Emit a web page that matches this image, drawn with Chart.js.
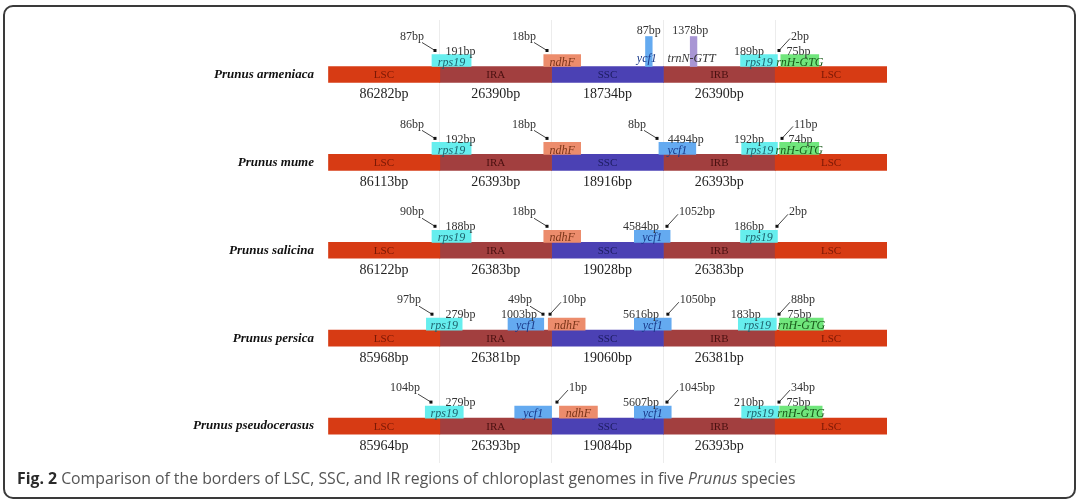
<!DOCTYPE html>
<html>
<head>
<meta charset="utf-8">
<script src="https://cdn.jsdelivr.net/npm/chart.js@4.4.1/dist/chart.umd.min.js"></script>
<style>
  html, body { margin: 0; padding: 0; background: #fff; }
  body { width: 1080px; height: 504px; position: relative; overflow: hidden; }
  #frame { position: absolute; left: 3px; top: 5px; width: 1069px; height: 490px;
           border: 2px solid #3a3a3a; border-radius: 10px; }
  #c { position: absolute; left: 0; top: 0; }
  #caption { position: absolute; left: 17px; top: 467px; font-family: "Open Sans", sans-serif;
             font-size: 15.8px; color: #555; white-space: nowrap; }
  #caption b { color: #2a2a2a; }
</style>
</head>
<body>
<div id="frame"></div>
<canvas id="c" width="1080" height="504"></canvas>
<div id="caption"><b>Fig. 2</b> Comparison of the borders of LSC, SSC, and IR regions of chloroplast genomes in five <i>Prunus</i> species</div>
<script>
// ---- data ----
const species = ["Prunus armeniaca", "Prunus mume", "Prunus salicina", "Prunus persica", "Prunus pseudocerasus"];
const regions = ["LSC", "IRA", "SSC", "IRB", "LSC"];
const lscLengths = [86282, 86113, 86122, 85968, 85964];
const irLengths  = [26390, 26393, 26383, 26381, 26393];
const sscLengths = [18734, 18916, 19028, 19060, 19084];

// gene boxes: [row, start, end] on the schematic axis (one unit per region)
const rps19Boxes = [[0, 0.93, 1.28], [0, 3.69, 4.02], [1, 0.93, 1.28], [1, 3.70, 4.02],
                    [2, 0.93, 1.28], [2, 3.69, 4.02], [3, 0.88, 1.20], [3, 3.67, 4.01],
                    [4, 0.87, 1.21], [4, 3.70, 4.03]];
const ndhFBoxes  = [[0, 1.93, 2.26], [1, 1.93, 2.26], [2, 1.93, 2.26], [3, 1.97, 2.30], [4, 2.07, 2.41]];
const ycf1Boxes  = [[1, 2.96, 3.29], [2, 2.74, 3.06], [3, 1.61, 1.93], [3, 2.74, 3.07],
                    [4, 1.67, 2.00], [4, 2.74, 3.07]];
const ycf1Tall   = [[0, 2.84, 2.90]];
const trnNTall   = [[0, 3.24, 3.30]];
const rnHBoxes   = [[0, 4.05, 4.39], [1, 4.04, 4.39], [3, 4.04, 4.43], [4, 4.04, 4.42]];

// notes next to boxes: [row, text, x, align]
const sideNotes = [
  [0, "191bp", 1.05, "left"], [0, "189bp", 3.90, "right"], [0, "75bp", 4.10, "left"],
  [1, "192bp", 1.05, "left"], [1, "4494bp", 3.04, "left"], [1, "192bp", 3.90, "right"], [1, "74bp", 4.12, "left"],
  [2, "188bp", 1.05, "left"], [2, "4584bp", 2.96, "right"], [2, "186bp", 3.90, "right"],
  [3, "279bp", 1.05, "left"], [3, "1003bp", 1.87, "right"], [3, "5616bp", 2.96, "right"],
  [3, "183bp", 3.87, "right"], [3, "75bp", 4.11, "left"],
  [4, "279bp", 1.05, "left"], [4, "5607bp", 2.96, "right"], [4, "210bp", 3.90, "right"], [4, "75bp", 4.10, "left"]
];
// notes above tall boxes: [row, text, x]
const topNotes = [[0, "87bp", 2.87], [0, "1378bp", 3.24]];
// arrow notes: [row, text, tip x, side of the text]
const arrowNotes = [
  [0, "87bp", 0.957, "left"], [0, "18bp", 1.959, "left"], [0, "2bp", 4.034, "right"],
  [1, "86bp", 0.957, "left"], [1, "18bp", 1.959, "left"], [1, "8bp", 2.943, "left"], [1, "11bp", 4.061, "right"],
  [2, "90bp", 0.957, "left"], [2, "18bp", 1.959, "left"], [2, "1052bp", 3.032, "right"], [2, "2bp", 4.016, "right"],
  [3, "97bp", 0.930, "left"], [3, "49bp", 1.923, "left"], [3, "10bp", 1.986, "right"],
  [3, "1050bp", 3.040, "right"], [3, "88bp", 4.034, "right"],
  [4, "104bp", 0.921, "left"], [4, "1bp", 2.048, "right"], [4, "1045bp", 3.032, "right"], [4, "34bp", 4.034, "right"]
];

// ---- styles ----
const PPU = 88;                 // pixels per row on the y scale
const BAR_PX = 16, BOX_PX = 12, TALL_PX = 30;
const boxShift = -(BAR_PX / 2 + BOX_PX / 2) / PPU;
const tallShift = -(BAR_PX / 2 + TALL_PX / 2) / PPU;

const regionColors = { LSC: "#d73b14", IRA: "#a23f3f", SSC: "#4b41b4", IRB: "#a23f3f" };
const regionText = { LSC: "#7a1805", IRA: "#4a1010", SSC: "#1c1c60", IRB: "#4a1010" };
const SERIF = '"Liberation Serif", "DejaVu Serif", serif';

const genes = [
  { name: "rps19",    boxes: rps19Boxes, color: "#66eeee", text: "#1f6570", tall: false },
  { name: "ndhF",     boxes: ndhFBoxes,  color: "#ec8c6c", text: "#7a3418", tall: false },
  { name: "ycf1",     boxes: ycf1Boxes,  color: "#64aaf0", text: "#1a3a8a", tall: false },
  { name: "ycf1",     boxes: ycf1Tall,   color: "#64aaf0", text: "#1a3a8a", tall: true },
  { name: "trnN-GTT", boxes: trnNTall,   color: "#a896d4", text: "#333333", tall: true },
  { name: "rnH-GTG",  boxes: rnHBoxes,   color: "#70e67c", text: "#1a5a1a", tall: false }
];

const regionDatasets = ["LSC", "IRA", "SSC", "IRB"].map(name => ({
  label: name,
  data: species.flatMap((s, row) =>
    regions.map((r, i) => r === name ? { x: [i, i + 1], y: row } : null).filter(Boolean)),
  backgroundColor: regionColors[name],
  barThickness: BAR_PX
}));

const geneDatasets = genes.map(g => ({
  label: g.name,
  data: g.boxes.map(([row, a, b]) => ({ x: [a, b], y: row + (g.tall ? tallShift : boxShift) })),
  backgroundColor: g.color,
  barThickness: g.tall ? TALL_PX : BOX_PX
}));

const labelPlugin = {
  id: "borderLabels",
  afterDatasetsDraw(chart) {
    const { ctx, scales: { x, y } } = chart;
    ctx.save();
    ctx.textBaseline = "middle";

    species.forEach((name, row) => {
      const cy = y.getPixelForValue(row);
      ctx.font = "italic bold 13px " + SERIF;
      ctx.fillStyle = "#111";
      ctx.textAlign = "right";
      ctx.fillText(name, x.getPixelForValue(0) - 14, cy);

      ctx.font = "11px " + SERIF;
      ctx.textAlign = "center";
      regions.forEach((r, i) => {
        ctx.fillStyle = regionText[r];
        ctx.fillText(r, x.getPixelForValue(i + 0.5), cy + 1);
      });

      const lens = [lscLengths[row], irLengths[row], sscLengths[row], irLengths[row]];
      ctx.font = "14px " + SERIF;
      ctx.fillStyle = "#222";
      lens.forEach((v, i) => ctx.fillText(v + "bp", x.getPixelForValue(i + 0.5), cy + 20));
    });

    // gene names
    ctx.font = "italic 12px " + SERIF;
    ctx.textAlign = "center";
    genes.forEach(g => {
      ctx.fillStyle = g.text;
      g.boxes.forEach(([row, a, b]) => {
        const cx = (x.getPixelForValue(a) + x.getPixelForValue(b)) / 2;
        const cy = y.getPixelForValue(row) + (g.tall ? -16 : -12);
        ctx.fillText(g.name, g.tall ? cx - 2 : cx, cy);
      });
    });

    ctx.font = "12px " + SERIF;
    ctx.fillStyle = "#333";
    sideNotes.forEach(([row, text, xv, align]) => {
      ctx.textAlign = align;
      ctx.fillText(text, x.getPixelForValue(xv), y.getPixelForValue(row) - 23);
    });
    ctx.textAlign = "center";
    topNotes.forEach(([row, text, xv]) => {
      ctx.fillText(text, x.getPixelForValue(xv), y.getPixelForValue(row) - 44);
    });

    ctx.strokeStyle = "#444";
    ctx.lineWidth = 1;
    arrowNotes.forEach(([row, text, tip, side]) => {
      const tx = x.getPixelForValue(tip);
      const cy = y.getPixelForValue(row);
      const left = side === "left";
      ctx.beginPath();
      ctx.moveTo(left ? tx - 13 : tx + 11, left ? cy - 32 : cy - 36);
      ctx.lineTo(tx, cy - 24);
      ctx.stroke();
      ctx.fillStyle = "#111";
      ctx.fillRect(tx - 1.5, cy - 25.5, 3, 3);
      ctx.fillStyle = "#333";
      ctx.textAlign = left ? "right" : "left";
      ctx.fillText(text, left ? tx - 11 : tx + 12, cy - 38);
    });
    ctx.restore();
  }
};

new Chart(document.getElementById("c"), {
  type: "bar",
  data: { datasets: [...geneDatasets, ...regionDatasets] },
  options: {
    indexAxis: "y",
    responsive: false,
    animation: false,
    events: [],
    layout: { padding: { left: 328, right: 193, top: 20, bottom: 41 } },
    datasets: { bar: { grouped: false, borderWidth: 0 } },
    plugins: { legend: { display: false }, tooltip: { enabled: false } },
    scales: {
      x: {
        type: "linear", min: 0, max: 5,
        ticks: { display: false, stepSize: 1 },
        border: { display: false },
        grid: {
          drawTicks: false,
          color: c => (c.tick.value > 0 && c.tick.value < 5) ? "#ececec" : "rgba(0,0,0,0)"
        }
      },
      y: {
        type: "linear", reverse: true, min: -0.62, max: 4.42,
        offset: false, display: false
      }
    }
  },
  plugins: [labelPlugin]
});
</script>
</body>
</html>
